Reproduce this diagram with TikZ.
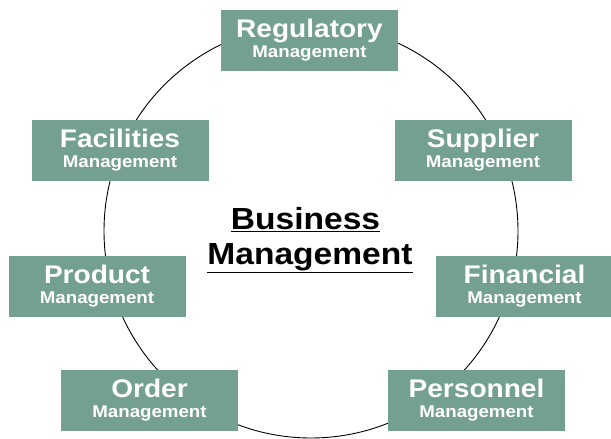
\documentclass[tikz,border=0pt]{standalone}
\usepackage{fontspec}
\newfontfamily\labelfont{Liberation Sans}[FakeStretch=1.1]
\definecolor{boxgreen}{RGB}{116,160,145}
\tikzset{
  areabox/.style={fill=boxgreen,text=white,minimum width=177pt,minimum height=61pt,
    inner sep=0pt,align=center,font=\labelfont\bfseries\fontsize{17}{20}\selectfont}
}
\newcommand{\areatext}[1]{{\fontsize{25.5}{20}\selectfont #1}\\Management}

\begin{document}
\begin{tikzpicture}[x=1pt,y=-1pt]
        \useasboundingbox (0,0) rectangle (611,439) ;
        %\draw[very thin,gray,step=10] (0,0) grid (611,439) ;
        \node[draw,circle,line width=0.9pt,minimum size=414pt,inner sep=0pt] (ring) at (311,231) {} ;
        \node[inner sep=0pt,align=center,font=\labelfont\bfseries\fontsize{30.5}{35}\selectfont]
          (biz) at (310,240) {\underline{Business}\hspace*{9pt}\\\underline{Management}} ;
        % the seven areas round the ring
        \node[areabox] (reg) at (309.5,40) {\areatext{Regulatory}} ;
        \node[areabox] (sup) at (483,150.5) {\areatext{Supplier}} ;
        \node[areabox] (fac) at (120,150.5) {\areatext{Facilities}} ;
        \node[areabox] (fin) at (524.5,286.5) {\areatext{Financial}} ;
        \node[areabox] (prod) at (97,286.5) {\areatext{Product}} ;
        \node[areabox] (ord) at (149.5,400.5) {\areatext{Order}} ;
        \node[areabox] (per) at (476.5,400) {\areatext{Personnel}} ;
      \end{tikzpicture}
\end{document}
